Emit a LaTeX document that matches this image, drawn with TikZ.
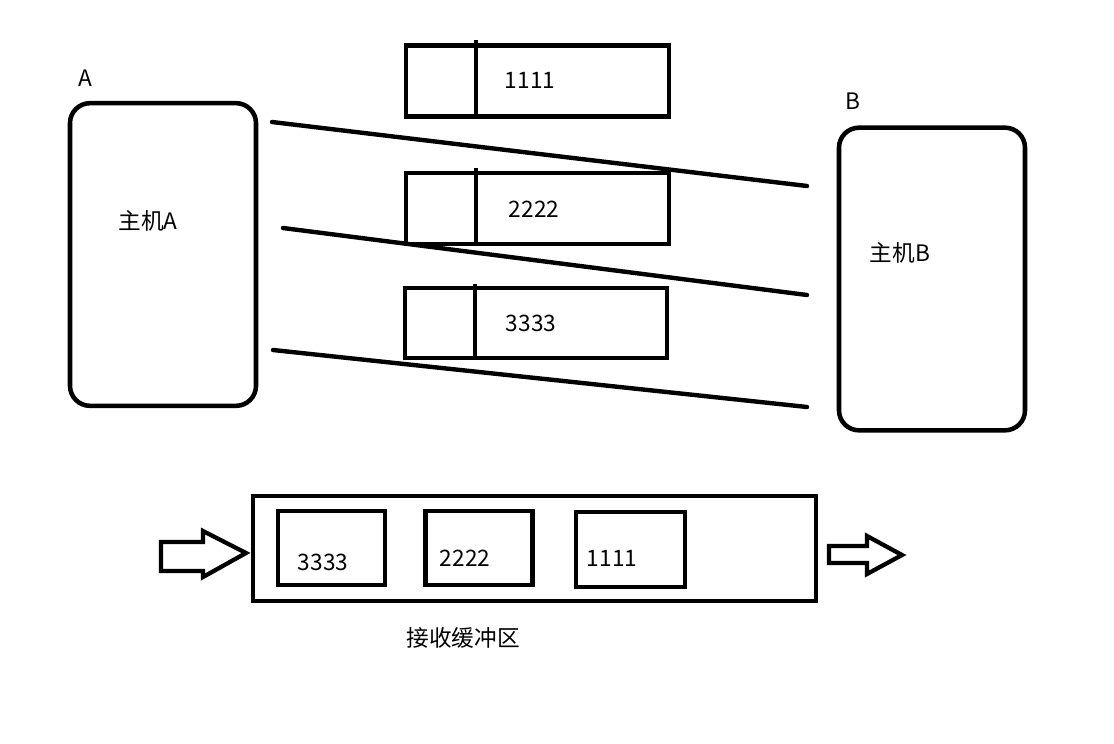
\documentclass[tikz,border=0pt]{standalone}
\usepackage{fontspec}
\setmainfont{Noto Sans CJK SC}
\usetikzlibrary{positioning,calc}
\tikzset{
  hostbox/.style={draw=black,line width=3.4pt,rounded corners=15pt,minimum width=139.5pt,minimum height=227pt},
  pktbox/.style={draw=black,line width=3.3pt,minimum width=197pt,minimum height=53.5pt},
  slotbox/.style={draw=black,line width=3.3pt,minimum width=80.5pt,minimum height=55.5pt},
  buffbox/.style={draw=black,line width=3.4pt,minimum width=422pt,minimum height=79pt},
  label/.style={font=\fontsize{17}{20}\selectfont,text=black,inner sep=0pt},
  wire/.style={draw=black,line width=3.3pt,line cap=round},
  bigarrow/.style={draw=black,line width=3.2pt,line join=miter,fill=white}
}
\begin{document}
\begin{tikzpicture}[x=0.75pt,y=-0.75pt]
  \useasboundingbox (0,0) rectangle (1114,743);
  % hosts
  \node[hostbox] (hA) at (163,254.5) {};
  \node[hostbox] (hB) at (932,279) {};
  \node[label] (tA) at (85,78) {A};
  \node[label] (tB) at (853,101) {B};
  \node[label] (nA) at (148,221) {主机A};
  \node[label] (nB) at (900,253) {主机B};
  % packets in flight
  \node[pktbox] (p1) at (537.5,81) {};
  \node[pktbox] (p2) at (537.5,208.5) {};
  \node[pktbox,minimum width=196.5pt,minimum height=52.5pt] (p3) at (536,323) {};
  \draw[line width=3.3pt] (476,40) -- (476,117);
  \draw[line width=3.3pt] (476,168) -- (476,244);
  \draw[line width=3.3pt] (475,284) -- (475,358);
  \node[label] (d1) at (530,80) {1111};
  \node[label] (d2) at (534,209) {2222};
  \node[label] (d3) at (531,323) {3333};
  % wires
  \coordinate (a1) at (272,122);
  \coordinate (b1) at (807,186);
  \coordinate (a2) at (283,228);
  \coordinate (b2) at (807,295);
  \coordinate (a3) at (273,350);
  \coordinate (b3) at (807,407);
  \draw[wire] (a1) -- (b1);
  \draw[wire] (a2) -- (b2);
  \draw[wire] (a3) -- (b3);
  % receive buffer
  \node[buffbox] (buf) at (534.5,548.5) {};
  \node[slotbox] (s3) at (331.5,548) {};
  \node[slotbox] (s2) at (479,548) {};
  \node[slotbox,minimum width=81.5pt,minimum height=56pt] (s1) at (630.5,549.5) {};
  \node[label] (e3) at (323,562) {3333};
  \node[label] (e2) at (465,558) {2222};
  \node[label] (e1) at (612,558) {1111};
  \node[label] (nbuf) at (463,638) {接收缓冲区};
  % in / out arrows
  \draw[bigarrow] (161,542) -- (203,542) -- (203,531) -- (246,553) -- (203,577) -- (203,571) -- (161,571) -- cycle;
  \draw[bigarrow] (829,546) -- (867,546) -- (867,536) -- (902,555) -- (867,574) -- (867,563) -- (829,563) -- cycle;
\end{tikzpicture}
\end{document}
